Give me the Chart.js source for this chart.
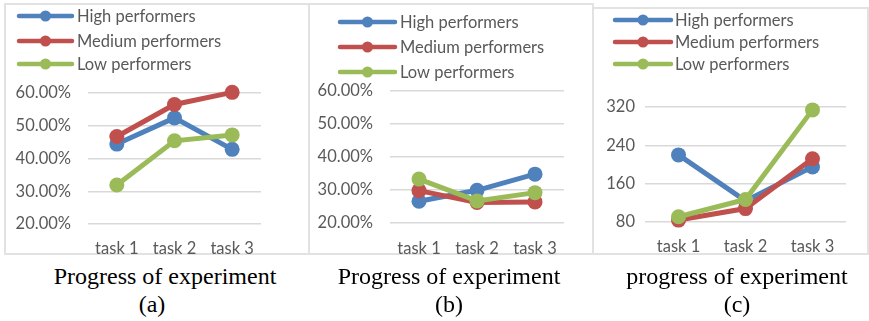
<!DOCTYPE html>
<html>
<head>
<meta charset="utf-8">
<script src="https://cdn.jsdelivr.net/npm/chart.js@4/dist/chart.umd.min.js"></script>
<style>
  html, body { margin: 0; padding: 0; background: #ffffff; }
  body { width: 869px; height: 321px; position: relative; overflow: hidden; }
  .panel { position: absolute; box-sizing: border-box; border: 2px solid #e2e2e2; }
  .panel canvas { position: absolute; left: -2px; top: -2px; }
  .cap { position: absolute; font-family: "Liberation Serif", "Times New Roman", serif;
         font-size: 24px; line-height: 28px; color: #000; text-align: center; white-space: nowrap; }
</style>
</head>
<body>
<div class="panel" id="pa" style="left:4px;top:3px;width:306px;height:252px;"><canvas id="ca" width="306" height="252"></canvas></div>
<div class="panel" id="pb" style="left:308px;top:3px;width:286px;height:252px;"><canvas id="cb" width="286" height="252"></canvas></div>
<div class="panel" id="pc" style="left:592px;top:7px;width:277px;height:248px;"><canvas id="cc" width="277" height="248"></canvas></div>

<div class="cap" style="left:45px;top:262px;width:240px;">Progress of experiment</div>
<div class="cap" style="left:92px;top:290px;width:120px;">(a)</div>
<div class="cap" style="left:329px;top:262px;width:240px;">Progress of experiment</div>
<div class="cap" style="left:389px;top:290px;width:120px;">(b)</div>
<div class="cap" style="left:617px;top:262px;width:240px;">progress of experiment</div>
<div class="cap" style="left:677px;top:290px;width:120px;">(c)</div>

<script>
// Shared categories and series names
const categories = ['task 1', 'task 2', 'task 3'];
const seriesNames = ['High performers', 'Medium performers', 'Low performers'];
const seriesColors = ['#4f81bd', '#c0504d', '#9bbb59'];

// (a) share values per group
const aHigh = [0.444, 0.524, 0.428];
const aMedium = [0.467, 0.565, 0.602];
const aLow = [0.319, 0.454, 0.472];

// (b) share values per group
const bHigh = [0.266, 0.299, 0.348];
const bMedium = [0.298, 0.262, 0.264];
const bLow = [0.333, 0.267, 0.292];

// (c) counts per group
const cHigh = [220, 124, 195];
const cMedium = [84, 108, 212];
const cLow = [91, 127, 314];

// Axis tick values
const pctTicks = [0.2, 0.3, 0.4, 0.5, 0.6];
const countTicks = [80, 160, 240, 320];

const FONT = 'Lato, "Noto Sans", sans-serif';
const TEXT_GRAY = '#595959';

// Legend drawn as line + marker + label, stacked in rows at the top left
const lineLegend = {
  id: 'lineLegend',
  afterDraw(chart, args, opts) {
    const ctx = chart.ctx;
    ctx.save();
    chart.data.datasets.forEach((ds, i) => {
      const y = opts.rows[i];
      ctx.strokeStyle = ds.borderColor;
      ctx.lineWidth = 4.5;
      ctx.lineCap = 'round';
      ctx.beginPath();
      ctx.moveTo(opts.x1, y);
      ctx.lineTo(opts.x2, y);
      ctx.stroke();
      ctx.fillStyle = ds.borderColor;
      ctx.beginPath();
      ctx.arc((opts.x1 + opts.x2) / 2, y, 5.5, 0, Math.PI * 2);
      ctx.fill();
      ctx.fillStyle = TEXT_GRAY;
      ctx.font = opts.fontSize + 'px ' + FONT;
      ctx.textBaseline = 'middle';
      ctx.textAlign = 'left';
      ctx.fillText(ds.label, opts.textX, y + 1);
    });
    ctx.restore();
  }
};

function makeChart(id, values, yOpts, box) {
  const datasets = values.map((v, i) => ({
    label: seriesNames[i],
    data: v,
    borderColor: seriesColors[i],
    backgroundColor: seriesColors[i],
    pointBackgroundColor: seriesColors[i],
    pointBorderWidth: 0,
    pointRadius: 7.5,
    borderWidth: 5,
    tension: 0,
    clip: false,
    order: 3 - i
  }));
  return new Chart(document.getElementById(id), {
    type: 'line',
    data: { labels: categories, datasets },
    plugins: [lineLegend],
    options: {
      responsive: false,
      animation: false,
      devicePixelRatio: 1,
      layout: { padding: { left: 0, top: box.top, right: box.w - box.right, bottom: 0 } },
      plugins: {
        legend: { display: false },
        tooltip: { enabled: false },
        lineLegend: box.legend
      },
      scales: {
        x: {
          offset: true,
          grid: { display: false, drawTicks: false },
          border: { display: false },
          ticks: { color: TEXT_GRAY, font: { family: FONT, size: 16.5 }, padding: box.xPad, maxRotation: 0 },
          afterFit(s) { s.height = box.h - box.bottom; }
        },
        y: {
          min: yOpts.min,
          max: yOpts.max,
          afterBuildTicks(s) { s.ticks = yOpts.ticks.map(v => ({ value: v })); },
          grid: { color: '#d9d9d9', lineWidth: 1.5, drawTicks: false },
          border: { display: false },
          ticks: {
            color: TEXT_GRAY,
            font: { family: FONT, size: 16.5 },
            padding: box.yPad,
            callback: yOpts.fmt
          },
          afterFit(s) { s.width = box.left; }
        }
      }
    }
  });
}

const pctFmt = v => (v * 100).toFixed(2) + '%';

makeChart('ca', [aHigh, aMedium, aLow],
  { min: 0.2, max: 0.6, ticks: pctTicks, fmt: pctFmt },
  { w: 306, h: 252, left: 84, right: 257, top: 90, bottom: 221, xPad: 15, yPad: 17,
    legend: { x1: 15, x2: 68, textX: 73, rows: [13, 38, 61], fontSize: 16.5 } });

makeChart('cb', [bHigh, bMedium, bLow],
  { min: 0.2, max: 0.6, ticks: pctTicks, fmt: pctFmt },
  { w: 286, h: 252, left: 82, right: 256, top: 88, bottom: 220, xPad: 16, yPad: 17,
    legend: { x1: 32, x2: 87, textX: 92, rows: [19, 44, 69], fontSize: 16.5 } });

makeChart('cc', [cHigh, cMedium, cLow],
  { min: 80, max: 320, ticks: countTicks, fmt: v => String(v) },
  { w: 277, h: 248, left: 53, right: 254, top: 100, bottom: 215, xPad: 15, yPad: 10,
    legend: { x1: 23, x2: 79, textX: 83, rows: [13, 35, 57], fontSize: 16.5 } });
</script>
</body>
</html>
